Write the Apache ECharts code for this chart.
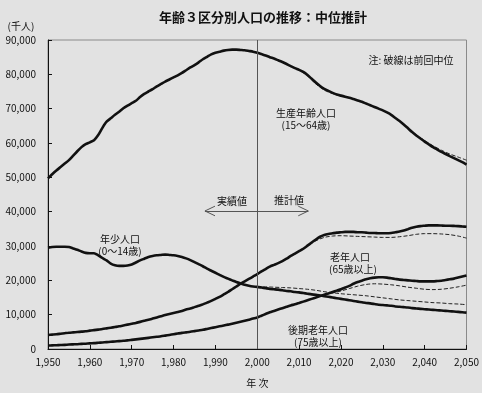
<!DOCTYPE html>
<html><head><meta charset="utf-8">
<script src="https://cdn.jsdelivr.net/npm/echarts@6/dist/echarts.min.js"></script>
<style>html,body{margin:0;padding:0;background:#e2e2e2}#c{width:482px;height:393px}</style>
</head><body><div id="c"></div>
<script>
const years = [1950,1951,1952,1953,1954,1955,1956,1957,1958,1959,1960,1961,1962,1963,1964,1965,1966,1967,1968,1969,1970,1971,1972,1973,1974,1975,1976,1977,1978,1979,1980,1981,1982,1983,1984,1985,1986,1987,1988,1989,1990,1991,1992,1993,1994,1995,1996,1997,1998,1999,2000,2001,2002,2003,2004,2005,2006,2007,2008,2009,2010,2011,2012,2013,2014,2015,2016,2017,2018,2019,2020,2021,2022,2023,2024,2025,2026,2027,2028,2029,2030,2031,2032,2033,2034,2035,2036,2037,2038,2039,2040,2041,2042,2043,2044,2045,2046,2047,2048,2049,2050];
// 生産年齢人口 (15~64歳)
const working = [49700,50900,52000,53000,54000,55000,56300,57600,58800,59700,60200,60800,62300,64400,66200,67200,68200,69100,70100,70900,71600,72300,73400,74300,75000,75700,76500,77200,77900,78500,79100,79700,80400,81200,82000,82700,83500,84400,85100,85800,86300,86600,86900,87100,87200,87200,87100,87000,86800,86600,86300,85900,85500,85000,84600,84100,83600,83000,82400,81800,81300,80700,79800,78700,77600,76600,75800,75200,74600,74100,73800,73500,73200,72800,72400,72000,71500,71000,70500,70000,69500,68900,68200,67300,66400,65400,64300,63200,62200,61300,60400,59600,58800,58100,57400,56800,56200,55600,55000,54400,53700];
// 年少人口 (0~14歳)
const young = [29500,29700,29800,29800,29800,29700,29300,28900,28400,28000,27900,27900,27300,26500,25800,24900,24400,24200,24200,24300,24600,25200,25800,26300,26800,27100,27300,27400,27500,27400,27300,27100,26800,26400,25900,25300,24700,24100,23400,22800,22200,21600,21000,20500,20000,19500,19100,18700,18400,18200,18100,17900,17700,17500,17400,17300,17100,16900,16800,16600,16500,16300,16100,15900,15800,15600,15400,15200,15000,14800,14600,14400,14200,14000,13800,13600,13400,13300,13100,12900,12800,12700,12600,12400,12300,12200,12100,11900,11800,11700,11600,11500,11400,11300,11200,11100,11000,10900,10800,10700,10600];
// 老年人口 (65歳以上)
const elderly = [4100,4200,4300,4450,4600,4750,4850,4950,5050,5150,5350,5500,5650,5800,6000,6200,6400,6600,6850,7100,7350,7600,7900,8200,8500,8850,9200,9550,9900,10200,10500,10800,11100,11500,11800,12200,12600,13000,13500,14000,14600,15200,15900,16600,17400,18200,19000,19700,20400,21100,21800,22600,23300,24000,24500,25000,25600,26300,27100,27800,28500,29200,30100,31000,31900,32700,33200,33500,33700,33900,34000,34100,34100,34100,34000,34000,33900,33800,33800,33700,33700,33700,33800,34000,34200,34500,34900,35300,35600,35800,35900,36000,36000,36000,35950,35900,35900,35850,35800,35700,35600];
// 後期老年人口 (75歳以上)
const old75 = [1000,1050,1100,1150,1200,1300,1350,1400,1500,1550,1650,1700,1800,1900,2000,2100,2200,2300,2400,2500,2650,2800,2950,3100,3250,3400,3550,3700,3900,4100,4300,4500,4700,4850,5000,5200,5400,5600,5850,6100,6350,6600,6850,7100,7350,7650,7950,8250,8550,8850,9200,9700,10200,10700,11100,11500,11900,12300,12700,13000,13400,13800,14200,14600,15000,15400,15800,16200,16600,17000,17400,17900,18400,19000,19500,19900,20300,20600,20800,20900,20900,20800,20600,20400,20200,20100,20000,19900,19800,19700,19700,19700,19700,19800,19900,20100,20300,20500,20800,21100,21400];
// 前回中位 (破線)
const prevYears = [2000,2002,2004,2006,2008,2010,2012,2014,2016,2018,2020,2022,2024,2026,2028,2030,2032,2034,2036,2038,2040,2042,2044,2046,2048,2050];
const prevWorking = [86300,85500,84600,83600,82400,81200,79600,77200,75400,74400,73700,73200,72400,71500,70500,69500,68200,66400,64400,62400,60700,59200,57900,56800,55900,55000];
const prevElderly = [21800,23300,24500,25600,27100,28500,30000,31500,32500,32900,33000,32900,32800,32700,32600,32500,32500,32700,33000,33400,33600,33600,33500,33300,32900,32300];
const prevOld75 = [9200,10200,11100,11900,12700,13400,14200,15000,15700,16300,16900,17600,18300,18800,19000,18900,18700,18400,18000,17700,17400,17300,17400,17700,18100,18600];
const prevYoung = [18200,18100,18000,17900,17800,17600,17400,17100,16700,16400,16100,15900,15700,15500,15200,14900,14600,14300,14100,13900,13700,13500,13400,13200,13100,12900];
const yTicks = [0,10000,20000,30000,40000,50000,60000,70000,80000,90000];

const pair = (xs, vs) => xs.map((x, i) => [x, vs[i]]);
const solid = (name, vals) => ({
  name, type: 'line', data: pair(years, vals), symbol: 'none', smooth: 0.2,
  lineStyle: { color: '#111', width: 2.6 }, z: 3
});
const dashed = (name, vals) => ({
  name, type: 'line', data: pair(prevYears, vals), symbol: 'none', smooth: 0.3,
  lineStyle: { color: '#222', width: 1, type: [4, 2] }, z: 2
});
const font = '"Noto Sans CJK JP", "Liberation Sans", sans-serif';
const txt = (t, x, y, size, bold) => ({
  type: 'text', x, y, z: 10,
  style: { text: t, fill: '#111', font: (bold ? 'bold ' : '') + size + 'px ' + font, textAlign: 'center', textVerticalAlign: 'middle' }
});

const chart = echarts.init(document.getElementById('c'));
chart.setOption({
  backgroundColor: '#e2e2e2',
  animation: false,
  grid: { left: 48, right: 14, top: 40, bottom: 38, show: true, borderColor: '#8a8a8a', borderWidth: 1 },
  xAxis: {
    type: 'value', min: 1950, max: 2050, interval: 10,
    name: '年 次', nameLocation: 'middle', nameGap: 29,
    nameTextStyle: { fontSize: 10, color: '#111', fontFamily: font },
    axisLine: { lineStyle: { color: '#111', width: 1 } },
    axisTick: { inside: true, length: 4, lineStyle: { color: '#111' } },
    axisLabel: { fontSize: 10, color: '#111', margin: 8, fontFamily: font },
    splitLine: { show: false }
  },
  yAxis: {
    type: 'value', min: yTicks[0], max: yTicks[yTicks.length - 1], interval: 10000,
    axisLine: { show: true, lineStyle: { color: '#111', width: 1 } },
    axisTick: { show: true, inside: true, length: 4, lineStyle: { color: '#111' } },
    axisLabel: { fontSize: 10, color: '#111', margin: 12, fontFamily: font,
      formatter: v => v.toLocaleString('en-US') },
    splitLine: { show: false }
  },
  series: [
    Object.assign(solid('working', working), {
      markLine: {
        silent: true, symbol: 'none', label: { show: false },
        lineStyle: { color: '#555', width: 1, type: 'solid' },
        data: [
          { xAxis: 2000 },
          [{ coord: [1987.5, 40200] }, { coord: [2012.2, 40200] }],
          [{ coord: [1987.5, 40200] }, { coord: [1989.9, 41600] }],
          [{ coord: [1987.5, 40200] }, { coord: [1989.9, 38800] }],
          [{ coord: [2012.2, 40200] }, { coord: [2009.8, 41600] }],
          [{ coord: [2012.2, 40200] }, { coord: [2009.8, 38800] }]
        ]
      }
    }),
    solid('young', young),
    solid('elderly', elderly),
    solid('old75', old75),
    dashed('prevWorking', prevWorking),
    dashed('prevYoung', prevYoung),
    dashed('prevElderly', prevElderly),
    dashed('prevOld75', prevOld75)
  ],
  graphic: [
    txt('年齢３区分別人口の推移：中位推計', 263, 17, 13, true),
    txt('(千人)', 21, 26, 10),
    txt('注: 破線は前回中位', 411, 60, 10),
    txt('生産年齢人口', 306, 113, 10),
    txt('(15～64歳)', 306, 125, 10),
    txt('実績値', 232, 201, 10),
    txt('推計値', 289, 200, 10),
    txt('年少人口', 120, 239, 10),
    txt('(0～14歳)', 120, 251, 10),
    txt('老年人口', 350, 257, 10),
    txt('(65歳以上)', 353, 269, 10),
    txt('後期老年人口', 318, 330, 10),
    txt('(75歳以上)', 318, 342, 10)
  ]
});
</script></body></html>
